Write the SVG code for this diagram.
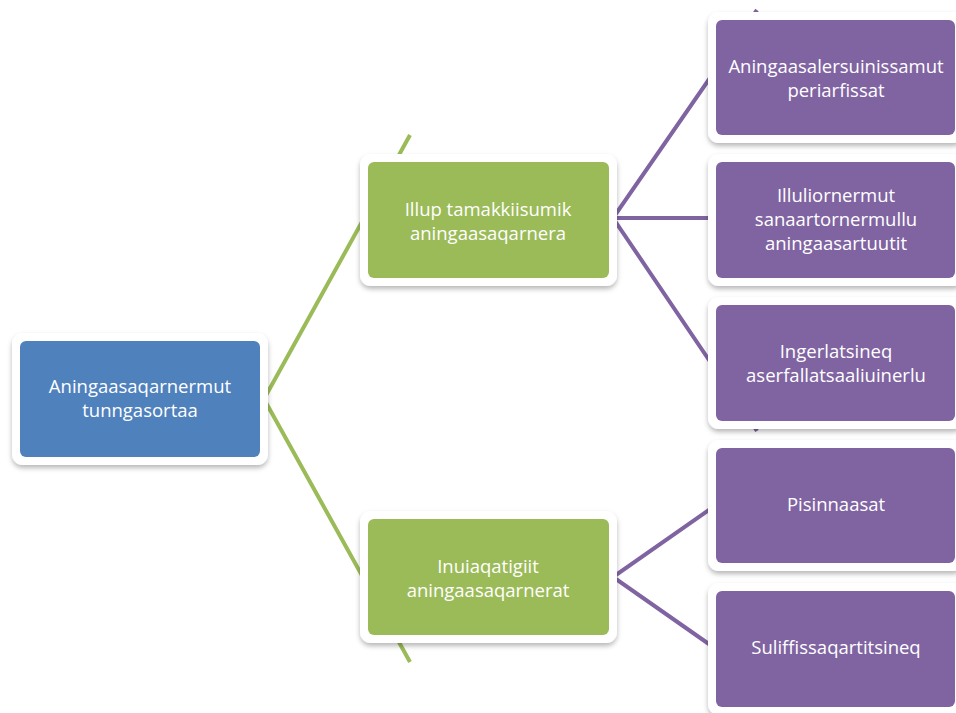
<svg xmlns="http://www.w3.org/2000/svg" width="956" height="713" viewBox="0 0 956 713">
<defs>
<filter id="sh" x="-10%" y="-10%" width="120%" height="130%">
<feDropShadow dx="0" dy="3" stdDeviation="2.5" flood-color="#000" flood-opacity="0.28"/>
</filter>
<style>
.frame{fill:#fff;filter:url(#sh)}
.blue{fill:#4F81BD}
.green{fill:#9BBB59}
.purple{fill:#8064A2}
.t{fill:#fff;font-family:"Open Sans","Liberation Sans",sans-serif;font-size:18.5px;text-anchor:middle}
.cg{stroke:#9BBB59;stroke-width:4;fill:none;stroke-linejoin:miter}
.cp{stroke:#8064A2;stroke-width:4;fill:none;stroke-linejoin:miter}
</style>
</defs>
<rect width="956" height="713" fill="#fff"/>
<g id="connectors">
<polyline class="cg" points="410,135 264,399 410,662"/>
<polyline class="cp" points="757,10 613,218 757,431"/>
<line class="cp" x1="613" y1="218" x2="716" y2="218"/>
<polyline class="cp" points="716,505 613,577 716,649"/>
</g>
<g id="n0">
<rect class="frame" x="12" y="333" width="256" height="132" rx="11"/>
<rect class="blue" x="20" y="341" width="240" height="116" rx="6"/>
<text class="t" x="140" y="393">Aningaasaqarnermut</text>
<text class="t" x="140" y="417">tunngasortaa</text>
</g>
<g id="n1">
<rect class="frame" x="360" y="154" width="257" height="132" rx="11"/>
<rect class="green" x="368" y="162" width="241" height="116" rx="6"/>
<text class="t" x="488" y="216">Illup tamakkiisumik</text>
<text class="t" x="488" y="240">aningaasaqarnera</text>
</g>
<g id="n2">
<rect class="frame" x="360" y="511" width="257" height="132" rx="11"/>
<rect class="green" x="368" y="519" width="241" height="116" rx="6"/>
<text class="t" x="488" y="573">Inuiaqatigiit</text>
<text class="t" x="488" y="597">aningaasaqarnerat</text>
</g>
<g id="n3">
<rect class="frame" x="708" y="12" width="256" height="131" rx="11"/>
<rect class="purple" x="716" y="20" width="239" height="115" rx="6"/>
<text class="t" x="836" y="73">Aningaasalersuinissamut</text>
<text class="t" x="836" y="97">periarfissat</text>
</g>
<g id="n4">
<rect class="frame" x="708" y="154" width="256" height="132" rx="11"/>
<rect class="purple" x="716" y="162" width="239" height="116" rx="6"/>
<text class="t" x="836" y="202">Illuliornermut</text>
<text class="t" x="836" y="226">sanaartornermullu</text>
<text class="t" x="836" y="250">aningaasartuutit</text>
</g>
<g id="n5">
<rect class="frame" x="708" y="297" width="256" height="132" rx="11"/>
<rect class="purple" x="716" y="305" width="239" height="116" rx="6"/>
<text class="t" x="836" y="358">Ingerlatsineq</text>
<text class="t" x="836" y="382">aserfallatsaaliuinerlu</text>
</g>
<g id="n6">
<rect class="frame" x="708" y="440" width="256" height="131" rx="11"/>
<rect class="purple" x="716" y="448" width="239" height="115" rx="6"/>
<text class="t" x="836" y="511">Pisinnaasat</text>
</g>
<g id="n7">
<rect class="frame" x="708" y="583" width="256" height="132" rx="11"/>
<rect class="purple" x="716" y="591" width="239" height="116" rx="6"/>
<text class="t" x="836" y="654">Suliffissaqartitsineq</text>
</g>
</svg>
